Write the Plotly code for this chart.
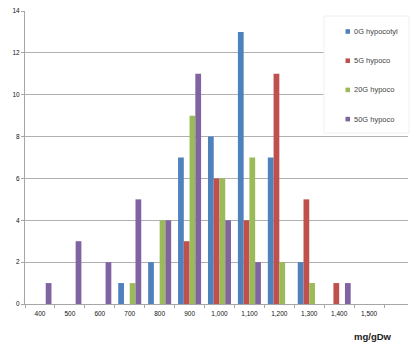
import plotly.graph_objects as go

# Histogram bins (mg/gDw) and counts per treatment
categories = ["400", "500", "600", "700", "800", "900", "1,000", "1,100",
              "1,200", "1,300", "1,400", "1,500"]
series_names = ["0G hypocotyl", "5G hypoco", "20G hypoco", "50G hypoco"]
counts_0g = [0, 0, 0, 1, 2, 7, 8, 13, 7, 2, 0, 0]
counts_5g = [0, 0, 0, 0, 0, 3, 6, 4, 11, 5, 1, 0]
counts_20g = [0, 0, 0, 1, 4, 9, 6, 7, 2, 1, 0, 0]
counts_50g = [1, 3, 2, 5, 4, 11, 4, 2, 0, 0, 1, 0]
colors = ["#4F81BD", "#C0504D", "#9BBB59", "#8064A2"]

W_PX, H_PX = 410, 351
L, R, T, B = 25, 2, 11, 47
plot_w = W_PX - L - R
plot_h = H_PX - T - B


def px_x(x):
    return (x - L) / plot_w


def px_y(y):
    return (H_PX - B - y) / plot_h


fig = go.Figure()
for name, vals, col in zip(series_names,
                           [counts_0g, counts_5g, counts_20g, counts_50g],
                           colors):
    fig.add_trace(go.Bar(x=categories, y=vals, name=name,
                         marker=dict(color=col, line=dict(width=0)),
                         showlegend=False))

# Legend panel
shapes = [dict(type="rect", xref="paper", yref="paper",
               x0=px_x(324), x1=px_x(409), y0=px_y(133), y1=px_y(16),
               fillcolor="white", line=dict(color="#f0f0f0", width=1),
               layer="above")]
annotations = []
for i, (name, col) in enumerate(zip(series_names, colors)):
    yc = 31.5 + i * 29.2
    shapes.append(dict(type="rect", xref="paper", yref="paper",
                       x0=px_x(345.5), x1=px_x(350), y0=px_y(yc + 2.3),
                       y1=px_y(yc - 2.3), fillcolor=col, line=dict(width=0),
                       layer="above"))
    annotations.append(dict(x=px_x(352), y=px_y(yc), xref="paper",
                            yref="paper", text=name, showarrow=False,
                            xanchor="left", yanchor="middle",
                            font=dict(size=7.5, color="#444444",
                                      family="Liberation Sans")))

annotations.append(dict(x=px_x(373), y=px_y(336), xref="paper", yref="paper",
                        text="<b>mg/gDw</b>", showarrow=False,
                        xanchor="center", yanchor="middle",
                        font=dict(size=9.5, color="#222222",
                                  family="Liberation Sans")))

fig.update_layout(
    width=W_PX, height=H_PX,
    margin=dict(l=L, r=R, t=T, b=B),
    paper_bgcolor="white", plot_bgcolor="white",
    barmode="group", bargap=0.23, bargroupgap=0,
    shapes=shapes, annotations=annotations,
    font=dict(family="Liberation Sans", size=6.5, color="#111111"),
)
fig.update_xaxes(
    type="category", categoryorder="array", categoryarray=categories,
    range=[-0.5, 12.3], showgrid=False, showline=True, linecolor="#a6a6a6",
    linewidth=1, ticks="outside", tickson="boundaries", ticklen=3,
    tickcolor="#a6a6a6", tickfont=dict(size=6.5), ticklabelstandoff=3,
    zeroline=False,
)
fig.update_yaxes(
    range=[0, 14], dtick=2, showgrid=True, gridcolor="#b0b0b0", gridwidth=1,
    showline=True, linecolor="#a6a6a6", linewidth=1, ticks="outside",
    ticklen=3, tickcolor="#a6a6a6", tickfont=dict(size=6.5), zeroline=False,
)

fig.write_html("out.html")
